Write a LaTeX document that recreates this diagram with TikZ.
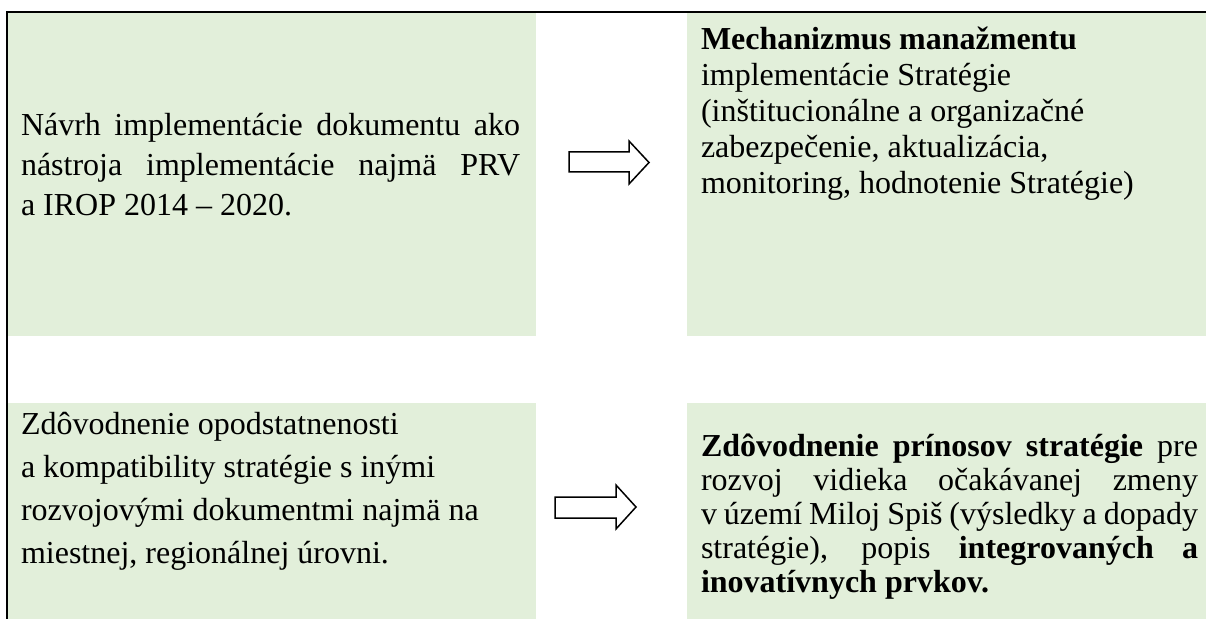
\documentclass[tikz,border=0pt]{standalone}
\usepackage{fontspec}
\setmainfont{Liberation Serif}
\definecolor{cellgreen}{HTML}{E2EFDA}
\tikzset{
  cell/.style={fill=cellgreen, draw=none},
  frameline/.style={line width=2bp, line cap=rect},
  blockarrow/.style={draw=black, fill=white, line width=1.5bp, line join=miter},
  txt/.style={inner sep=0pt, outer sep=0pt, anchor=base west},
}
\newcommand{\jline}[2]{\makebox[#1][s]{#2}}
\begin{document}
\begin{tikzpicture}[x=1bp,y=-1bp]
\useasboundingbox (0,0) rectangle (1206,619);
% green cells
\fill[cell] (8,13) rectangle (536,336);
\fill[cell] (687,13) rectangle (1206,336);
\fill[cell] (8,403) rectangle (536,619);
\fill[cell] (687,403) rectangle (1206,619);
% frame lines
\draw[frameline] (7,625) -- (7,12) -- (1212,12);
% block arrows
\draw[blockarrow] (569,152) -- (629,152) -- (629,141) -- (649,162.5) -- (629,184) -- (629,172) -- (569,172) -- cycle;
\draw[blockarrow] (555,497) -- (616,497) -- (616,485) -- (636,507) -- (616,529) -- (616,518) -- (555,518) -- cycle;
% texts
\node[txt, font={\fontsize{32bp}{40bp}\selectfont}] (tl) at (21,136) {\parbox[t]{520bp}{%
\jline{499bp}{Návrh implementácie dokumentu ako}\\
\jline{499bp}{nástroja implementácie najmä PRV}\\
a IROP 2014 – 2020.}};
\node[txt, font={\fontsize{32bp}{36bp}\selectfont}] (tr) at (701,50) {\parbox[t]{520bp}{%
\textbf{Mechanizmus manažmentu}\\
implementácie Stratégie\\
(inštitucionálne a organizačné\\
zabezpečenie, aktualizácia,\\
monitoring, hodnotenie Stratégie)}};
\node[txt, font={\fontsize{32bp}{43bp}\selectfont}] (bl) at (21,434) {\parbox[t]{520bp}{%
Zdôvodnenie opodstatnenosti\\
a kompatibility stratégie s inými\\
rozvojovými dokumentmi najmä na\\
miestnej, regionálnej úrovni.}};
\node[txt, font={\fontsize{32bp}{34bp}\selectfont}] (br) at (701,456) {\parbox[t]{520bp}{%
\jline{497bp}{\textbf{Zdôvodnenie prínosov stratégie} pre}\\
\jline{497bp}{rozvoj vidieka očakávanej zmeny}\\
\jline{497bp}{v území Miloj Spiš (výsledky a dopady}\\
\jline{497bp}{stratégie), popis \textbf{integrovaných a}}\\
\textbf{inovatívnych prvkov.}}};
\end{tikzpicture}
\end{document}
